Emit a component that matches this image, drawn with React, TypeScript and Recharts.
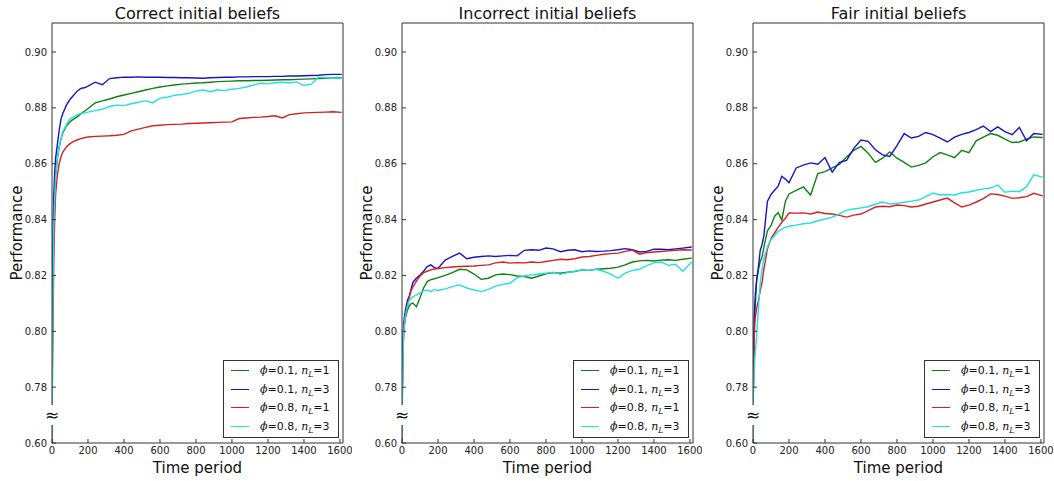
import React from 'react';
import { LineChart, Line, XAxis, YAxis } from 'recharts';

// time steps shared by every series
const TIME = [
  0, 2, 4, 7, 10, 15, 20, 30, 40, 50, 60, 80, 100, 120, 140, 160, 180, 200,
  240, 280, 320, 360, 400, 440, 480, 520, 560, 600,
  640, 680, 720, 760, 800, 840, 880, 920, 960, 1000,
  1040, 1080, 1120, 1160, 1200, 1240, 1280, 1320, 1360, 1400,
  1440, 1480, 1520, 1560, 1610,
];

const X_TICKS = [0, 200, 400, 600, 800, 1000, 1200, 1400, 1600];
// 0.76 is where the broken part of the axis (0.60) is drawn
const Y_TICKS = [0.76, 0.78, 0.8, 0.82, 0.84, 0.86, 0.88, 0.9];
const Y_DOMAIN = [0.76, 0.9104];

// Correct initial beliefs
const correctG1 = [
  0.6, 0.79, 0.81, 0.83, 0.84, 0.85, 0.856, 0.862, 0.866, 0.869, 0.871, 0.8735, 0.875, 0.876, 0.8768, 0.8778, 0.8788, 0.8798,
  0.8818, 0.8825, 0.8832, 0.884, 0.8846, 0.8852, 0.8858, 0.8864, 0.887, 0.8875,
  0.8879, 0.8882, 0.8885, 0.8887, 0.8889, 0.889, 0.8892, 0.8894, 0.8895, 0.8896,
  0.8897, 0.8897, 0.8898, 0.8898, 0.8899, 0.89, 0.8901, 0.8901, 0.8902, 0.8903,
  0.8904, 0.8905, 0.8906, 0.8907, 0.8908,
];
const correctB3 = [
  0.6, 0.8, 0.825, 0.84, 0.849, 0.857, 0.862, 0.867, 0.872, 0.876, 0.878, 0.881, 0.883, 0.8845, 0.886, 0.887, 0.8872, 0.8878,
  0.8892, 0.8883, 0.8905, 0.8908, 0.891, 0.891, 0.8911, 0.891, 0.891, 0.891,
  0.8909, 0.8909, 0.8908, 0.8908, 0.8907, 0.8906, 0.8908, 0.8909, 0.891, 0.891,
  0.8911, 0.8911, 0.8912, 0.8912, 0.8912, 0.8913, 0.8913, 0.8914, 0.8914, 0.8915,
  0.8916, 0.8917, 0.8919, 0.892, 0.892,
];
const correctR1 = [
  0.6, 0.78, 0.795, 0.81, 0.825, 0.84, 0.849, 0.856, 0.86, 0.8625, 0.8642, 0.866, 0.8672, 0.868, 0.8685, 0.869, 0.8693, 0.8696,
  0.8698, 0.8699, 0.87, 0.8702, 0.8705, 0.8718, 0.8724, 0.873, 0.8736, 0.8738,
  0.874, 0.8741, 0.8742, 0.8744, 0.8745, 0.8746, 0.8747, 0.8748, 0.8749, 0.875,
  0.8762, 0.8764, 0.8766, 0.8767, 0.8769, 0.8772, 0.8764, 0.8776, 0.8779, 0.8782,
  0.8783, 0.8784, 0.8785, 0.8786, 0.8784,
];
const correctC3 = [
  0.6, 0.785, 0.805, 0.825, 0.838, 0.848, 0.855, 0.862, 0.866, 0.869, 0.8715, 0.874, 0.876, 0.8768, 0.8775, 0.878, 0.8782, 0.8785,
  0.879, 0.8795, 0.8805, 0.881, 0.8808, 0.8815, 0.882, 0.8826, 0.8818, 0.8835,
  0.8838, 0.8845, 0.8848, 0.8852, 0.886, 0.8864, 0.8858, 0.8865, 0.8862, 0.8867,
  0.887, 0.8875, 0.8882, 0.8888, 0.8886, 0.889, 0.8892, 0.8889, 0.8893, 0.888,
  0.8885, 0.891, 0.8908, 0.8906, 0.8906,
];

// Incorrect initial beliefs
const incorrectG1 = [
  0.6, 0.775, 0.79, 0.797, 0.8, 0.803, 0.805, 0.8075, 0.809, 0.8098, 0.8101, 0.8088, 0.812, 0.8155, 0.8178, 0.8185, 0.8188, 0.8192,
  0.82, 0.821, 0.8222, 0.822, 0.8205, 0.8186, 0.819, 0.8202, 0.8205, 0.8203,
  0.8198, 0.8196, 0.819, 0.8198, 0.8206, 0.821, 0.8208, 0.8212, 0.8214, 0.822,
  0.8218, 0.8222, 0.8224, 0.8226, 0.823, 0.8238, 0.8248, 0.8252, 0.8254, 0.8252,
  0.8255, 0.8256, 0.8254, 0.8258, 0.8262,
];
const incorrectB3 = [
  0.6, 0.77, 0.79, 0.8, 0.803, 0.806, 0.808, 0.811, 0.8125, 0.815, 0.8175, 0.819, 0.8202, 0.8215, 0.8232, 0.8238, 0.8228, 0.8225,
  0.8255, 0.8268, 0.828, 0.826, 0.8265, 0.8268, 0.827, 0.8268, 0.827, 0.8272,
  0.827, 0.829, 0.8292, 0.829, 0.8298, 0.8295, 0.8285, 0.829, 0.8292, 0.8285,
  0.8288, 0.8286, 0.8287, 0.8289, 0.8292, 0.8296, 0.8292, 0.8284, 0.8286, 0.8294,
  0.8294, 0.8292, 0.8295, 0.8298, 0.8302,
];
const incorrectR1 = [
  0.6, 0.775, 0.79, 0.795, 0.8, 0.804, 0.806, 0.809, 0.812, 0.8145, 0.8158, 0.818, 0.8198, 0.821, 0.8215, 0.822, 0.8223, 0.8225,
  0.8228, 0.823, 0.8232, 0.8233, 0.8234, 0.8236, 0.8238, 0.8245, 0.8248, 0.8244,
  0.8246, 0.8245, 0.8248, 0.8246, 0.825, 0.8254, 0.8258, 0.8256, 0.826, 0.8266,
  0.8268, 0.8272, 0.8276, 0.8278, 0.828, 0.8286, 0.8291, 0.8276, 0.8282, 0.8284,
  0.8286, 0.8288, 0.829, 0.8292, 0.8291,
];
const incorrectC3 = [
  0.6, 0.77, 0.785, 0.795, 0.8, 0.803, 0.806, 0.809, 0.811, 0.8118, 0.8123, 0.813, 0.8138, 0.8145, 0.8148, 0.8142, 0.815, 0.8146,
  0.8152, 0.816, 0.8166, 0.8155, 0.8148, 0.8142, 0.815, 0.8162, 0.8168, 0.8172,
  0.8192, 0.8198, 0.8202, 0.8205, 0.8208, 0.8212, 0.8204, 0.821, 0.8215, 0.822,
  0.8218, 0.8222, 0.8215, 0.8205, 0.819, 0.8208, 0.8218, 0.8222, 0.8235, 0.8245,
  0.8248, 0.8236, 0.824, 0.8215, 0.8248,
];

// Fair initial beliefs
const fairG1 = [
  0.6, 0.775, 0.79, 0.8, 0.806, 0.812, 0.818, 0.822, 0.825, 0.8266, 0.83, 0.836, 0.8378, 0.8412, 0.8425, 0.8398, 0.8465, 0.8492,
  0.8505, 0.8517, 0.8488, 0.8565, 0.8572, 0.8585, 0.8598, 0.8624, 0.8648, 0.8662,
  0.8638, 0.8605, 0.862, 0.8642, 0.862, 0.8605, 0.8588, 0.8594, 0.8603, 0.8625,
  0.864, 0.8632, 0.8622, 0.8648, 0.864, 0.8682, 0.8695, 0.8708, 0.8702, 0.8688,
  0.8676, 0.8678, 0.8688, 0.8696, 0.8694,
];
const fairB3 = [
  0.6, 0.78, 0.795, 0.805, 0.81, 0.815, 0.818, 0.823, 0.829, 0.831, 0.834, 0.8465, 0.849, 0.8505, 0.852, 0.8555, 0.8545, 0.8532,
  0.8585, 0.8595, 0.8603, 0.8598, 0.8622, 0.857, 0.8605, 0.8612, 0.8655, 0.8685,
  0.868, 0.865, 0.8632, 0.8626, 0.8665, 0.8708, 0.8692, 0.8698, 0.8712, 0.8704,
  0.8692, 0.8678, 0.8695, 0.8705, 0.8712, 0.8722, 0.8735, 0.8715, 0.8732, 0.8715,
  0.8704, 0.873, 0.8682, 0.8708, 0.8705,
];
const fairR1 = [
  0.6, 0.775, 0.79, 0.798, 0.803, 0.806, 0.808, 0.811, 0.8145, 0.8173, 0.822, 0.8295, 0.8332, 0.8352, 0.8372, 0.839, 0.8405, 0.8424,
  0.8423, 0.8424, 0.842, 0.8427, 0.8422, 0.842, 0.8415, 0.8409, 0.8416, 0.842,
  0.8432, 0.8445, 0.8448, 0.8446, 0.8452, 0.845, 0.8445, 0.8448, 0.8456, 0.8463,
  0.847, 0.8477, 0.846, 0.8445, 0.8452, 0.8463, 0.8475, 0.8492, 0.849, 0.8484,
  0.8476, 0.8478, 0.8482, 0.8494, 0.8485,
];
const fairC3 = [
  0.6, 0.77, 0.78, 0.787, 0.79, 0.794, 0.798, 0.808, 0.8173, 0.822, 0.826, 0.8302, 0.8328, 0.8342, 0.8358, 0.8366, 0.8372, 0.8376,
  0.838, 0.8385, 0.8388, 0.8396, 0.8402, 0.8409, 0.842, 0.8434, 0.8438, 0.8442,
  0.8446, 0.8455, 0.8463, 0.8456, 0.8458, 0.8462, 0.8466, 0.847, 0.8482, 0.8495,
  0.8488, 0.849, 0.8488, 0.8496, 0.8499, 0.8505, 0.851, 0.8513, 0.8524, 0.8498,
  0.8502, 0.85, 0.8518, 0.856, 0.8552,
];

const SERIES = [
  { key: 'g1', phi: '0.1', n: '1', color: '#118011' },
  { key: 'b3', phi: '0.1', n: '3', color: '#1515c8' },
  { key: 'r1', phi: '0.8', n: '1', color: '#d42222' },
  { key: 'c3', phi: '0.8', n: '3', color: '#22e0e0' },
];

const PANELS = [
  { title: 'Correct initial beliefs', left: 0, values: { g1: correctG1, b3: correctB3, r1: correctR1, c3: correctC3 } },
  { title: 'Incorrect initial beliefs', left: 350, values: { g1: incorrectG1, b3: incorrectB3, r1: incorrectR1, c3: incorrectC3 } },
  { title: 'Fair initial beliefs', left: 701, values: { g1: fairG1, b3: fairB3, r1: fairR1, c3: fairC3 } },
];

const FONT = '"DejaVu Sans", sans-serif';
const AXIS = '#333';
const CHART_W = 352;

// squeeze 0.60..0.78 into the small gap below the break
function squash(v: number) {
  return v >= 0.78 ? v : 0.76 + ((v - 0.6) / 0.18) * 0.02;
}

function yLabel(v: number) {
  return Math.abs(v - 0.76) < 1e-6 ? '0.60' : v.toFixed(2);
}

function LegendBox() {
  return (
    <div
      style={{
        position: 'absolute', left: 223, top: 360, width: 114, height: 76,
        border: `1px solid ${AXIS}`, background: '#fff', fontFamily: FONT, fontSize: 11, color: '#111',
      }}
    >
      {SERIES.map((s, i) => (
        <div key={s.key} style={{ position: 'absolute', left: 0, top: 1 + i * 18.6, height: 18, width: '100%' }}>
          <div style={{ position: 'absolute', left: 7, top: 8, width: 18, height: 0, borderTop: `1.5px solid ${s.color}` }} />
          <div style={{ position: 'absolute', left: 36, top: 2, whiteSpace: 'nowrap', lineHeight: '14px' }}>
            <i style={{ fontFamily: '"DejaVu Serif", serif' }}>ϕ</i>={s.phi}, <i style={{ fontFamily: '"DejaVu Serif", serif' }}>n</i>
            <sub style={{ fontSize: 7.5, fontStyle: 'italic', fontFamily: '"DejaVu Serif", serif' }}>L</sub>={s.n}
          </div>
        </div>
      ))}
    </div>
  );
}

function Panel({ panel }: { panel: (typeof PANELS)[number] }) {
  const data = TIME.map((t, i) => {
    const row: Record<string, number> = { t };
    SERIES.forEach((s) => {
      row[s.key] = squash((panel.values as Record<string, number[]>)[s.key][i]);
    });
    return row;
  });

  return (
    <div style={{ position: 'absolute', left: panel.left, top: 0, width: CHART_W, height: 481 }}>
      <LineChart
        width={CHART_W}
        height={481}
        data={data}
        margin={{ top: 22, right: CHART_W - 52 - 1 - 291, bottom: 0, left: 0 }}
      >
        <XAxis
          xAxisId="bottom"
          dataKey="t"
          type="number"
          domain={[0, 1617]}
          ticks={X_TICKS}
          allowDataOverflow
          height={38}
          stroke={AXIS}
          tickSize={-4}
          tickMargin={8}
          tick={{ fill: '#222', fontSize: 10, fontFamily: FONT }}
          label={{ value: 'Time period', position: 'insideBottom', offset: 8, fill: '#111', fontSize: 15, fontFamily: FONT }}
        />
        <XAxis
          xAxisId="top"
          orientation="top"
          dataKey="t"
          type="number"
          domain={[0, 1617]}
          ticks={X_TICKS}
          allowDataOverflow
          height={1}
          stroke={AXIS}
          tickSize={-4}
          tick={false}
          label={{ value: panel.title, position: 'top', offset: 3, fill: '#111', fontSize: 16, fontFamily: FONT }}
        />
        <YAxis
          yAxisId="left"
          type="number"
          domain={Y_DOMAIN}
          ticks={Y_TICKS}
          allowDataOverflow
          width={52}
          stroke={AXIS}
          tickSize={-4}
          tickMargin={9}
          tickFormatter={yLabel}
          tick={{ fill: '#222', fontSize: 10, fontFamily: FONT }}
          label={{
            content: () => (
              <text x={17} y={233} transform="rotate(-90 17 233)" textAnchor="middle" dominantBaseline="central"
                fill="#111" fontSize={15} fontFamily={FONT}>
                Performance
              </text>
            ),
          }}
        />
        <YAxis
          yAxisId="right"
          orientation="right"
          type="number"
          domain={Y_DOMAIN}
          ticks={Y_TICKS}
          allowDataOverflow
          width={1}
          stroke={AXIS}
          tickSize={-4}
          tick={false}
        />
        {SERIES.map((s) => (
          <Line
            key={s.key}
            xAxisId="bottom"
            yAxisId="left"
            dataKey={s.key}
            type="linear"
            stroke={s.color}
            strokeWidth={1.4}
            dot={false}
            isAnimationActive={false}
          />
        ))}
      </LineChart>
      {/* axis break mark */}
      <div
        style={{
          position: 'absolute', left: 45, top: 405, width: 14, height: 20, background: '#fff',
          fontFamily: FONT, fontSize: 17, lineHeight: '20px', textAlign: 'center', color: '#111',
        }}
      >
        ≈
      </div>
      <LegendBox />
    </div>
  );
}

export default function App() {
  return (
    <div style={{ position: 'absolute', left: 0, top: 0, width: 1054, height: 481, background: '#fff' }}>
      {PANELS.map((p) => (
        <Panel key={p.title} panel={p} />
      ))}
    </div>
  );
}
